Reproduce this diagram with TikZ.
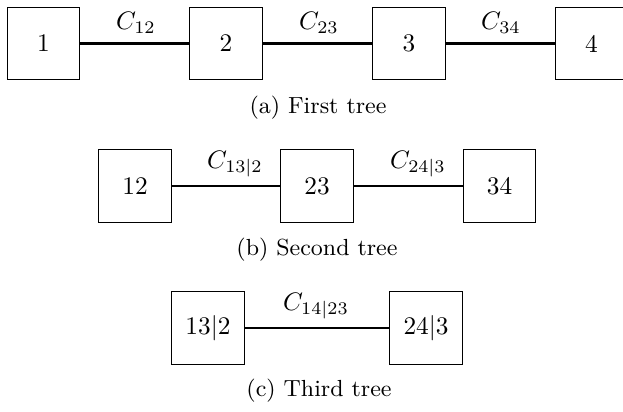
\documentclass[tikz,border=0pt]{standalone}
\begin{document}
\begin{tikzpicture}[x=0.395pt,y=-0.395pt,
  box/.style={draw,thin,minimum size=1cm,inner sep=0pt,font=\normalsize},
  edge/.style={thick},
  lab/.style={inner sep=0pt,anchor=center},
  captxt/.style={inner sep=0pt,anchor=center,font=\fontsize{9.2}{11}\selectfont}]
\useasboundingbox (0,0) rectangle (623,412);
\begin{scope}
\clip (0,0) rectangle (623,412);
% first tree
\node[box] (n1) at (43.5,43.5) {1};
\node[box] (n2) at (226,43.5) {2};
\node[box] (n3) at (409,43.5) {3};
\node[box] (n4) at (591.5,43.5) {4};
\end{scope}
\draw[edge] (n1) -- (n2);
\draw[edge] (n2) -- (n3);
\draw[edge] (n3) -- (n4);
\node[lab] (l12) at (136,23) {$C_{12}$};
\node[lab] (l23) at (319,23) {$C_{23}$};
\node[lab] (l34) at (501,23) {$C_{34}$};
\node[captxt] (ca) at (318,108) {(a) First tree};
% second tree
\node[box] (m12) at (135,186) {12};
\node[box] (m23) at (317,186) {23};
\node[box] (m34) at (499.5,186) {34};
\draw[edge] (m12) -- (m23);
\draw[edge] (m23) -- (m34);
\node[lab] (l132) at (235,164) {$C_{13|2}$};
\node[lab] (l243) at (418,164) {$C_{24|3}$};
\node[captxt] (cb) at (317,250) {(b) Second tree};
% third tree
\node[box] (k1) at (208,328) {13$|$2};
\node[box] (k2) at (426,328) {24$|$3};
\draw[edge] (k1) -- (k2);
\node[lab] (l1423) at (316,306) {$C_{14|23}$};
\node[captxt] (cc) at (319,391) {(c) Third tree};
\end{tikzpicture}
\end{document}
